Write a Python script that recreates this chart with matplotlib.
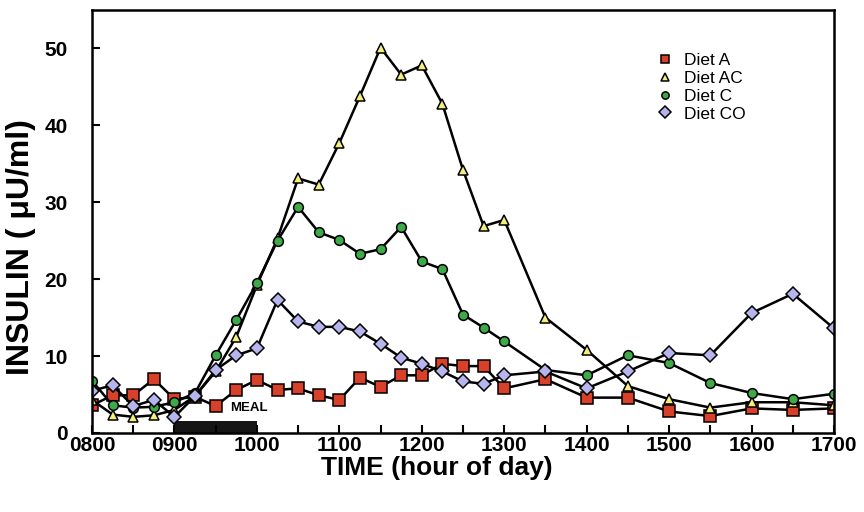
import matplotlib
matplotlib.use("Agg")
import matplotlib.pyplot as plt
import numpy as np

plt.rcParams['font.family'] = ['Liberation Sans', 'DejaVu Sans']

# sampling times (HHMM): every 15 min up to 1300, then every 30 min
times_hhmm = [800, 815, 830, 845, 900, 915, 930, 945, 1000, 1015, 1030, 1045,
              1100, 1115, 1130, 1145, 1200, 1215, 1230, 1245, 1300,
              1330, 1400, 1430, 1500, 1530, 1600, 1630, 1700]

# insulin values (uU/ml)
diet_a = [3.6, 4.9, 4.9, 7.0, 4.4, 4.7, 3.5, 5.6, 6.9, 5.6, 5.8, 4.9,
          4.3, 7.2, 6.0, 7.5, 7.5, 9.0, 8.7, 8.7, 5.8,
          7.0, 4.6, 4.6, 2.8, 2.2, 3.2, 3.0, 3.2]
diet_ac = [4.3, 2.4, 2.1, 2.3, 3.0, 4.8, 8.0, 12.5, 19.2, 25.3, 33.1, 32.3,
           37.7, 43.8, 50.1, 46.6, 47.8, 42.8, 34.2, 26.9, 27.7,
           15.0, 10.8, 6.1, 4.4, 3.3, 4.0, 4.0, 3.6]
diet_c = [6.8, 3.6, 3.3, 3.4, 4.0, 5.2, 10.1, 14.7, 19.5, 25.0, 29.4, 26.1,
          25.1, 23.3, 23.9, 26.8, 22.3, 21.3, 15.4, 13.7, 11.9,
          8.2, 7.5, 10.1, 9.1, 6.5, 5.2, 4.4, 5.1]
diet_co = [5.5, 6.2, 3.5, 4.3, 2.1, 4.8, 8.2, 10.1, 11.0, 17.3, 14.5, 13.8,
           13.8, 13.2, 11.6, 9.8, 9.0, 8.0, 6.7, 6.4, 7.5,
           8.0, 5.8, 8.0, 10.4, 10.1, 15.6, 18.1, 13.6]

labels = ["Diet A", "Diet AC", "Diet C", "Diet CO"]
hour_ticks = [800, 900, 1000, 1100, 1200, 1300, 1400, 1500, 1600, 1700]
meal_start, meal_end, meal_height = 900, 1000, 1.6


def to_hours(hhmm):
    hhmm = np.asarray(hhmm)
    return hhmm // 100 + (hhmm % 100) / 60.0


t = to_hours(times_hhmm)

fig = plt.figure(figsize=(8.64, 5.12), dpi=100)
ax = fig.add_axes([92 / 864, 1 - 433 / 512, 742 / 864, 423 / 512])

styles = [
    dict(marker='s', ms=8, mfc='#d8402a'),
    dict(marker='^', ms=7, mfc='#f4ee7a'),
    dict(marker='o', ms=7, mfc='#3caa48'),
    dict(marker='D', ms=7.5, mfc='#b7b5ee'),
]
for vals, lab, st in zip([diet_a, diet_ac, diet_c, diet_co], labels, styles):
    ax.plot(t, vals, color='black', lw=1.8, mec='black', mew=1.1,
            label=lab, **st)

# meal bar
m0, m1 = to_hours([meal_start, meal_end])
ax.bar(m0, meal_height, width=m1 - m0, align='edge', color='#151515', zorder=1)
ax.text(m0 + 0.68, 3.2, "MEAL", fontsize=9.5, fontweight='bold', va='center')

ax.set_xlim(8, 17)
ax.set_ylim(0, 55)
ax.set_xticks(to_hours(hour_ticks))
ax.set_xticklabels([f"{h:04d}" for h in hour_ticks])
ax.set_xticks(np.arange(8.5, 17, 1.0), minor=True)
ax.set_yticks([0, 10, 20, 30, 40, 50])
ax.tick_params(direction='in', length=6, width=1.5, labelsize=15)
ax.tick_params(axis='x', pad=2)
ax.tick_params(axis='y', pad=17.5)
ax.tick_params(which='minor', direction='in', length=6, width=1.5)
for lab in ax.get_xticklabels() + ax.get_yticklabels():
    lab.set_fontweight('bold')
for sp in ax.spines.values():
    sp.set_linewidth(1.8)

ax.set_xlabel("TIME (hour of day)", fontsize=19, fontweight='bold')
ax.xaxis.set_label_coords(0.465, -0.055)
ax.set_ylabel("INSULIN ( \u03bcU/ml)", fontsize=23, fontweight='bold')
ax.yaxis.set_label_coords(-0.075, 0.44)

leg = ax.legend(loc='upper left', bbox_to_anchor=(0.74, 0.935), frameon=False,
                fontsize=12.5, handlelength=1.0, handletextpad=0.6,
                labelspacing=0.15, markerscale=0.75)
for h in leg.get_lines():
    h.set_linestyle('none')

fig.savefig("out.png", dpi=100)
